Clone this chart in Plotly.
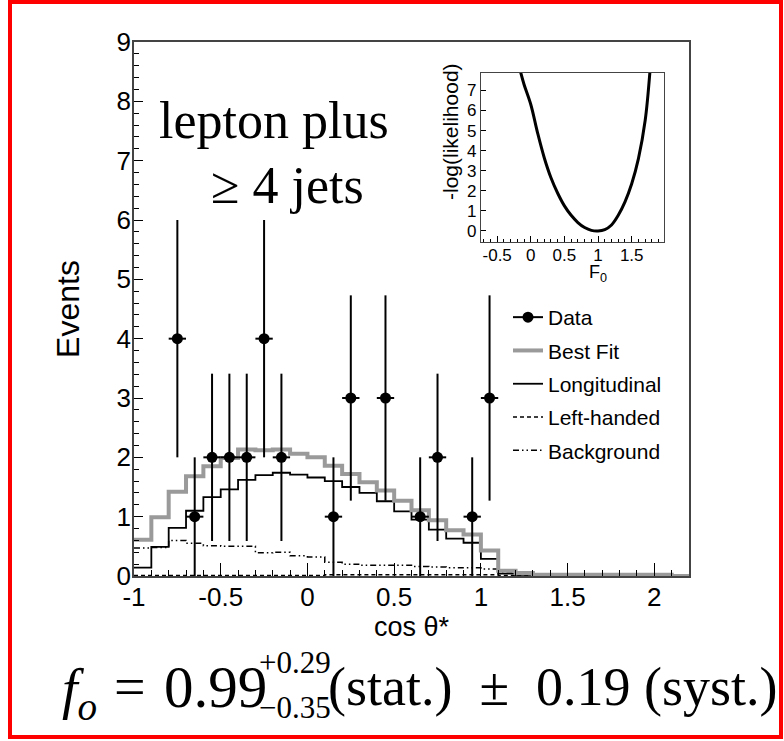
import numpy as np
import plotly.graph_objects as go

W, H = 784, 741

# ---------------- data ----------------
bin_edges = np.round(np.linspace(-1.0, 2.2, 33), 2)

best_fit = [0.61, 0.99, 1.42, 1.68, 1.85, 1.99, 2.13, 2.12, 2.13, 2.06,
            2.00, 1.86, 1.72, 1.58, 1.44, 1.27, 1.11, 0.94, 0.77, 0.70,
            0.43, 0.09, 0.05, 0.02, 0.02, 0.02, 0.02, 0.02, 0.02, 0.02,
            0.02, 0.0]
longitudinal = [0.14, 0.49, 0.81, 1.10, 1.33, 1.46, 1.62, 1.70, 1.74, 1.71,
                1.66, 1.60, 1.50, 1.40, 1.26, 1.09, 0.95, 0.78, 0.63, 0.56,
                0.29, 0.04, 0.02, 0.0, 0.0, 0.0, 0.0, 0.0, 0.0, 0.0,
                0.0, 0.0]
left_handed = [0.01, 0.01, 0.01, 0.01, 0.01, 0.01, 0.01, 0.01, 0.01, 0.01,
               0.01, 0.02, 0.02, 0.02, 0.02, 0.02, 0.02, 0.02, 0.02, 0.02,
               0.02, 0.01, 0.0, 0.0, 0.0, 0.0, 0.0, 0.0, 0.0, 0.0,
               0.0, 0.0]
background = [0.47, 0.48, 0.60, 0.55, 0.51, 0.50, 0.50, 0.39, 0.40, 0.34,
              0.32, 0.23, 0.20, 0.18, 0.18, 0.18, 0.16, 0.15, 0.14, 0.14,
              0.12, 0.05, 0.03, 0.01, 0.0, 0.0, 0.0, 0.0, 0.0, 0.0,
              0.0, 0.0]

data_x = [-0.75, -0.65, -0.55, -0.45, -0.35, -0.25, -0.15, 0.15, 0.25, 0.45,
          0.65, 0.75, 0.95, 1.05]
data_y = [4, 1, 2, 2, 2, 4, 2, 1, 3, 3, 1, 2, 1, 3]
data_yerr = [2.0, 1.0, 1.41, 1.41, 1.41, 2.0, 1.41, 1.0, 1.73, 1.73,
             1.0, 1.41, 1.0, 1.73]
data_xerr = [0.05] * 14

x_tickvals = [-1, -0.5, 0, 0.5, 1, 1.5, 2]
x_ticktext = ["-1", "-0.5", "0", "0.5", "1", "1.5", "2"]
y_tickvals = [0, 1, 2, 3, 4, 5, 6, 7, 8, 9]
y_ticktext = ["0", "1", "2", "3", "4", "5", "6", "7", "8", "9"]

# inset: -log(likelihood) vs F0
f0_vals = [-0.15, -0.1, 0.0, 0.1, 0.2, 0.3, 0.4, 0.5, 0.6, 0.7, 0.8, 0.9,
           1.0, 1.1, 1.2, 1.3, 1.4, 1.5, 1.6, 1.7, 1.77]
nll_vals = [7.9, 7.3, 6.3, 4.9, 3.65, 2.65, 1.88, 1.25, 0.78, 0.42, 0.17, 0.03,
            0.0, 0.07, 0.3, 0.78, 1.45, 2.35, 3.6, 5.5, 7.9]
inset_x_tickvals = [-0.5, 0, 0.5, 1, 1.5]
inset_x_ticktext = ["-0.5", "0", "0.5", "1", "1.5"]
inset_y_tickvals = [0, 1, 2, 3, 4, 5, 6, 7]
inset_y_ticktext = ["0", "1", "2", "3", "4", "5", "6", "7"]


def px(x):
    return x / W


def py(y):
    return 1 - y / H


def steps(vals):
    return list(bin_edges), list(vals) + [vals[-1]]


SANS = "Liberation Sans"
SERIF = "Liberation Serif"

fig = go.Figure()

hx, hy = steps(background)
fig.add_trace(go.Scatter(x=hx, y=hy, mode="lines", line_shape="hv",
                         line=dict(color="black", width=1.5, dash="6px,3px,1.5px,3px,1.5px,3px"),
                         name="Background", legendgroup="e", legendrank=5))
hx, hy = steps(left_handed)
fig.add_trace(go.Scatter(x=hx, y=hy, mode="lines", line_shape="hv",
                         line=dict(color="black", width=1.5, dash="4px,3px"),
                         name="Left-handed", legendgroup="d", legendrank=4))
hx, hy = steps(longitudinal)
fig.add_trace(go.Scatter(x=hx, y=hy, mode="lines", line_shape="hv",
                         line=dict(color="black", width=1.8),
                         name="Longitudinal", legendgroup="c", legendrank=3))
hx, hy = steps(best_fit)
fig.add_trace(go.Scatter(x=hx, y=hy, mode="lines", line_shape="hv",
                         line=dict(color="#9a9a9a", width=4),
                         name="Best Fit", legendgroup="b", legendrank=2))

fig.add_trace(go.Scatter(x=data_x, y=data_y, mode="markers",
                         marker=dict(color="black", size=11),
                         error_y=dict(type="data", array=data_yerr, color="black",
                                      thickness=2, width=0),
                         error_x=dict(type="data", array=data_xerr, color="black",
                                      thickness=2, width=0),
                         showlegend=False))
# legend entry for data
fig.add_trace(go.Scatter(x=[None], y=[None], mode="lines+markers",
                         line=dict(color="black", width=2),
                         marker=dict(color="black", size=11),
                         name="Data", legendgroup="a", legendrank=1))

# inset curve
fig.add_trace(go.Scatter(x=f0_vals, y=nll_vals, mode="lines", line_shape="spline",
                         line=dict(color="black", width=3), showlegend=False,
                         xaxis="x2", yaxis="y2"))

axis_line = "#444444"
fig.update_layout(
    width=W, height=H,
    margin=dict(l=0, r=0, t=0, b=0, autoexpand=False),
    paper_bgcolor="white", plot_bgcolor="white",
    showlegend=True,
    legend=dict(x=px(508), y=py(297), xanchor="left", yanchor="top",
                font=dict(family=SANS, size=21, color="black"),
                bgcolor="rgba(0,0,0,0)", tracegroupgap=3, itemwidth=30),
    xaxis=dict(domain=[px(134), px(689)], range=[-1, 2.2], anchor="y", automargin=False,
               tickvals=x_tickvals, ticktext=x_ticktext,
               ticks="inside", ticklen=13, tickwidth=1.2, tickcolor="black",
               minor=dict(dtick=0.1, tick0=-1, ticks="inside", ticklen=6,
                          tickwidth=1.2, tickcolor="black"),
               showline=True, linecolor=axis_line, linewidth=1.5, mirror=True,
               showgrid=False, zeroline=False, ticklabelstandoff=-3,
               tickfont=dict(family=SANS, size=26, color="black"),
               title=dict(text="cos θ*", font=dict(family=SANS, size=27, color="black"),
                          standoff=5)),
    yaxis=dict(domain=[py(576), py(42)], range=[0, 9], anchor="x", automargin=False,
               tickvals=y_tickvals, ticktext=y_ticktext,
               ticks="inside", ticklen=9, tickwidth=1.2, tickcolor="black",
               minor=dict(dtick=0.2, tick0=0, ticks="inside", ticklen=5,
                          tickwidth=1.2, tickcolor="black"),
               showline=True, linecolor=axis_line, linewidth=1.5, mirror=True,
               showgrid=False, zeroline=False, ticklabelstandoff=-4,
               tickfont=dict(family=SANS, size=26, color="black"),
               title=dict(text="Events", font=dict(family=SANS, size=32, color="black"),
                          standoff=27)),
    xaxis2=dict(domain=[px(481), px(664)], range=[-0.74, 1.98], anchor="y2", automargin=False,
                tickvals=inset_x_tickvals, ticktext=inset_x_ticktext,
                ticks="inside", ticklen=6, tickwidth=1, tickcolor="black",
                minor=dict(dtick=0.1, tick0=0, ticks="inside", ticklen=3,
                           tickwidth=1, tickcolor="black"),
                showline=True, linecolor=axis_line, linewidth=1.2, mirror=True,
                showgrid=False, zeroline=False, ticklabelstandoff=-3,
                tickfont=dict(family=SANS, size=17, color="black")),
    yaxis2=dict(domain=[py(242), py(73)], range=[-0.55, 7.87], anchor="x2", automargin=False,
                tickvals=inset_y_tickvals, ticktext=inset_y_ticktext,
                ticks="inside", ticklen=5, tickwidth=1, tickcolor="black",
                showline=True, linecolor=axis_line, linewidth=1.2, mirror=True,
                showgrid=False, zeroline=False,
                tickfont=dict(family=SANS, size=17, color="black")),
)

ann = []
# inset axis titles (ROOT right-aligned style)
ann.append(dict(text="F<sub>0</sub>", x=px(598), y=py(273), xanchor="center", yanchor="middle",
                font=dict(family=SANS, size=18, color="black")))
ann.append(dict(text="-log(likelihood)", x=px(450), y=py(132), xanchor="center", yanchor="middle",
                textangle=-90, font=dict(family=SANS, size=21, color="black")))
# text label
ann.append(dict(text="lepton plus", x=px(157), y=py(151), xanchor="left", yanchor="bottom",
                font=dict(family=SERIF, size=52, color="black")))
ann.append(dict(text="≥ 4 jets", x=px(209), y=py(216), xanchor="left", yanchor="bottom",
                font=dict(family=SERIF, size=52, color="black")))
# result formula
ann.append(dict(text="<i>f</i><sub><i>o</i></sub>", x=px(60), y=py(693),
                xanchor="left", yanchor="middle",
                font=dict(family=SERIF, size=56, color="black")))
ann.append(dict(text="=", x=px(130), y=py(687), xanchor="center", yanchor="middle",
                font=dict(family=SERIF, size=56, color="black")))
ann.append(dict(text="0.99", x=px(162), y=py(687), xanchor="left", yanchor="middle",
                font=dict(family=SERIF, size=59, color="black")))
ann.append(dict(text="+0.29", x=px(257), y=py(662), xanchor="left", yanchor="middle",
                font=dict(family=SERIF, size=31, color="black")))
ann.append(dict(text="−0.35", x=px(257), y=py(707), xanchor="left", yanchor="middle",
                font=dict(family=SERIF, size=31, color="black")))
ann.append(dict(text="(stat.)  ±  0.19 (syst.)", x=px(326), y=py(687),
                xanchor="left", yanchor="middle",
                font=dict(family=SERIF, size=54, color="black")))
for a in ann:
    a.update(xref="paper", yref="paper", showarrow=False)
fig.update_layout(annotations=ann)

fig.add_shape(type="rect", xref="paper", yref="paper",
              x0=px(10), x1=px(781), y0=py(737), y1=py(2),
              line=dict(color="red", width=4))

fig.write_html("out.html")
